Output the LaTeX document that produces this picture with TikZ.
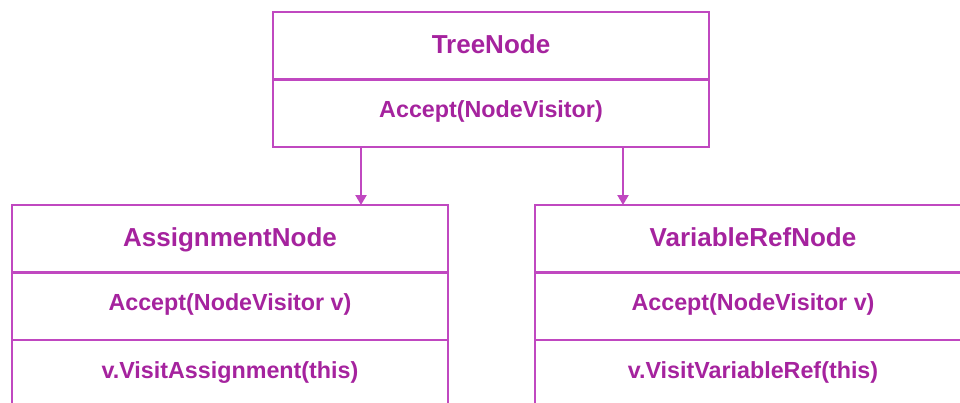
\documentclass[tikz,border=0pt]{standalone}
\usepackage{fontspec}
\setmainfont{Liberation Sans}
\usetikzlibrary{arrows.meta}
\definecolor{umlline}{RGB}{192,72,192}
\definecolor{umltext}{RGB}{165,35,158}
\tikzset{
  compartment/.style={draw=umlline, line width=2.2pt, rectangle, minimum width=436pt, minimum height=67.5pt, inner sep=0pt, outer sep=0pt, anchor=north west, text=umltext, font=\bfseries\fontsize{23.3}{27}\selectfont, text height=8.7pt, text depth=0pt},
  titlecomp/.style={compartment, font=\bfseries\fontsize{26}{30}\selectfont, text height=14.6pt, text depth=0pt},
  inherit/.style={draw=umlline, line width=2.2pt, -{Triangle[width=11pt,length=10pt]}}
}
\begin{document}
\begin{tikzpicture}[x=1pt,y=-1pt]
\useasboundingbox (0,0) rectangle (960,402);
\clip (0,0) rectangle (960,402);
% TreeNode
\node[titlecomp] (tn1) at (273,12) {TreeNode};
\node[compartment] (tn2) at (tn1.south west) {Accept(NodeVisitor)};
% AssignmentNode
\node[titlecomp] (as1) at (12,205) {AssignmentNode};
\node[compartment] (as2) at (as1.south west) {Accept(NodeVisitor v)};
\node[compartment] (as3) at (as2.south west) {v.VisitAssignment(this)};
% VariableRefNode
\node[titlecomp] (vr1) at (535,205) {VariableRefNode};
\node[compartment] (vr2) at (vr1.south west) {Accept(NodeVisitor v)};
\node[compartment] (vr3) at (vr2.south west) {v.VisitVariableRef(this)};
% connectors
\coordinate (ca) at (361,0);
\coordinate (cb) at (623,0);
\draw[inherit] (tn2.south -| ca) -- (as1.north -| ca);
\draw[inherit] (tn2.south -| cb) -- (vr1.north -| cb);
\end{tikzpicture}
\end{document}
